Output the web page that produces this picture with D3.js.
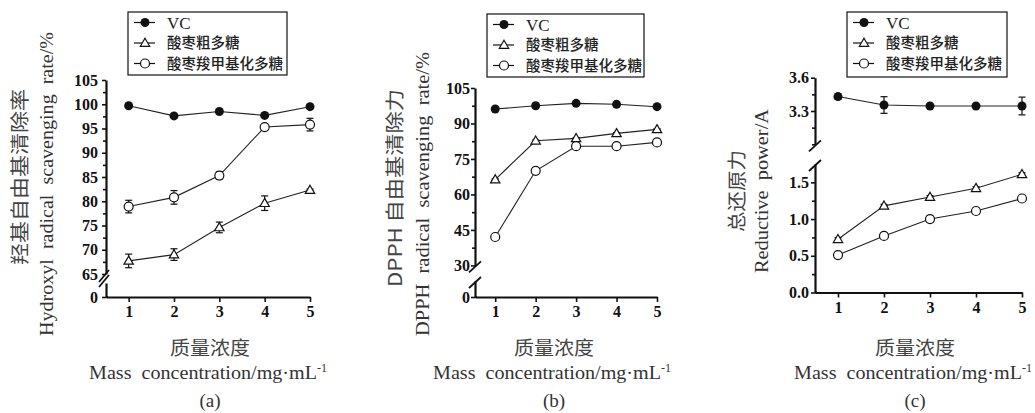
<!DOCTYPE html>
<html>
<head>
<meta charset="utf-8">
<script src="https://cdn.jsdelivr.net/npm/d3@7"></script>
<style>
  body { margin: 0; background: #fff; }
  svg text { font-family: "Liberation Serif", "Times New Roman", serif; fill: #111; }
  svg text.cn { font-family: "Noto Sans CJK SC", sans-serif; }
</style>
</head>
<body>
<svg id="chart" width="1035" height="413"></svg>
<script>
// concentrations (mg/mL) and series names
var conc = [1, 2, 3, 4, 5];
var seriesNames = ["VC", "酸枣粗多糖", "酸枣羧甲基化多糖"];

// (a) hydroxyl radical scavenging rate, %
var ohVC = [99.7, 97.6, 98.5, 97.7, 99.5];
var ohVCErr = [0.3, 0.3, 0.3, 0.3, 0.3];
var ohCrude = [67.7, 69.0, 74.6, 79.6, 82.3];
var ohCrudeErr = [1.4, 1.2, 1.1, 1.5, 0.2];
var ohCM = [78.9, 80.8, 85.3, 95.3, 95.8];
var ohCMErr = [1.3, 1.4, 0.8, 0.3, 1.3];
var ohTicks = [0, 65, 70, 75, 80, 85, 90, 95, 100, 105];

// (b) DPPH radical scavenging rate, %
var dpVC = [96.1, 97.5, 98.5, 98.1, 97.1];
var dpVCErr = [0.3, 0.3, 0.3, 0.3, 0.3];
var dpCrude = [66.3, 82.7, 83.7, 85.8, 87.5];
var dpCrudeErr = [0.3, 0.3, 0.3, 0.3, 0.3];
var dpCM = [42.0, 70.0, 80.4, 80.4, 82.0];
var dpCMErr = [0.3, 0.3, 0.3, 0.3, 0.3];
var dpTicks = [0, 30, 45, 60, 75, 90, 105];

// (c) reductive power, A
var rpVC = [3.43, 3.354, 3.345, 3.345, 3.345];
var rpVCErr = [0.025, 0.075, 0.01, 0.005, 0.08];
var rpCrude = [0.725, 1.18, 1.30, 1.42, 1.61];
var rpCrudeErr = [0.02, 0.02, 0.02, 0.02, 0.02];
var rpCM = [0.51, 0.77, 1.0, 1.11, 1.28];
var rpCMErr = [0.02, 0.02, 0.04, 0.04, 0.02];
var rpTicks = [0, 0.5, 1.0, 1.5, 3.3, 3.6];

var svg = d3.select("#chart");

var panels = [{
    id: "(a)",
    series: [[ohVC, ohVCErr], [ohCrude, ohCrudeErr], [ohCM, ohCMErr]],
    ticks: ohTicks, minorStep: 2.5, fmt: d3.format("d"),
    split: 50,
    hiDomain: [65, 105], hiRange: [274, 80],
    loDomain: [0, 1], loRange: [297, 283],
    x0: 106, x1: 310, labelPad: 4,
    brk: "double",
    legend: { x: 128, y: 12, w: 159, h: 63 },
    cnTitle: "羟基自由基清除率", cnX: 20, cnY: 177, cnLen: 176,
    enTitle: "Hydroxyl  radical  scavenging  rate/%", enX: 47, enY: 184, enLen: 304,
    xCenter: 210
}, {
    id: "(b)",
    series: [[dpVC, dpVCErr], [dpCrude, dpCrudeErr], [dpCM, dpCMErr]],
    ticks: dpTicks, minorStep: 7.5, fmt: d3.format("d"),
    split: 15,
    hiDomain: [30, 105], hiRange: [265.4, 88],
    loDomain: [0, 1], loRange: [297, 281],
    x0: 475, x1: 657, labelPad: 1,
    brk: "single",
    legend: { x: 487, y: 14, w: 157, h: 63 },
    cnTitle: "DPPH 自由基清除力", cnX: 395, cnY: 188, cnLen: 198,
    enTitle: "DPPH  radical  scavenging  rate/%", enX: 423, enY: 194, enLen: 284,
    xCenter: 554
}, {
    id: "(c)",
    series: [[rpVC, rpVCErr], [rpCrude, rpCrudeErr], [rpCM, rpCMErr]],
    ticks: rpTicks, minorStep: 0.15, fmt: d3.format(".1f"),
    split: 2.5,
    hiDomain: [3.0, 3.6], hiRange: [144.3, 77.7],
    loDomain: [0, 1.75], loRange: [292.5, 164],
    loMinor: 0.25,
    x0: 815, x1: 1022, labelPad: 2,
    brk: "single",
    legend: { x: 847, y: 12, w: 160, h: 65 },
    cnTitle: "总还原力", cnX: 737, cnY: 191, cnLen: 82,
    enTitle: "Reductive  power/A", enX: 762, enY: 191, enLen: 164,
    xCenter: 915
}];

function marker(sel, k, cx, cy) {
    if (k === 0) {
        sel.append("circle").attr("cx", cx).attr("cy", cy).attr("r", 4.5).attr("fill", "#111");
    } else if (k === 1) {
        sel.append("path")
            .attr("d", d3.symbol().type(d3.symbolTriangle).size(38)())
            .attr("transform", "translate(" + cx + "," + (cy + 0.6) + ")")
            .attr("fill", "#fff").attr("stroke", "#111").attr("stroke-width", 1.2);
    } else {
        sel.append("circle").attr("cx", cx).attr("cy", cy).attr("r", 4.5)
            .attr("fill", "#fff").attr("stroke", "#111").attr("stroke-width", 1.2);
    }
}

panels.forEach(function(p) {
    var g = svg.append("g");
    var x = d3.scaleLinear().domain([0.5, 5]).range([p.x0, p.x1]);
    var yHi = d3.scaleLinear().domain(p.hiDomain).range(p.hiRange);
    var yLo = d3.scaleLinear().domain(p.loDomain).range(p.loRange);
    var y = function(v) { return v >= p.split ? yHi(v) : yLo(v); };
    var baseY = yLo(0);

    var hiMajor = p.ticks.filter(function(t) { return t >= p.split; });
    var loMajor = p.ticks.filter(function(t) { return t < p.split; });
    var hiMinor = d3.range(p.hiDomain[0], p.hiDomain[1] + 1e-9, p.minorStep)
        .filter(function(t) { return hiMajor.every(function(m) { return Math.abs(m - t) > 1e-6; }); });
    var loMinor = p.loMinor ? d3.range(0, p.loDomain[1] - 0.1, p.loMinor)
        .filter(function(t) { return loMajor.every(function(m) { return Math.abs(m - t) > 1e-6; }); }) : [];

    // y axis, upper part
    var ah = g.append("g").attr("transform", "translate(" + p.x0 + ",0)")
        .call(d3.axisLeft(yHi).tickValues(hiMajor).tickSize(4).tickSizeOuter(0)
            .tickPadding(p.labelPad).tickFormat(p.fmt));
    var ahm = g.append("g").attr("transform", "translate(" + p.x0 + ",0)")
        .call(d3.axisLeft(yHi).tickValues(hiMinor).tickSize(3).tickSizeOuter(0).tickFormat(""));
    // y axis, lower part
    var al = g.append("g").attr("transform", "translate(" + p.x0 + ",0)")
        .call(d3.axisLeft(yLo).tickValues(loMajor).tickSize(4).tickSizeOuter(0)
            .tickPadding(p.labelPad).tickFormat(p.fmt));
    var alm = g.append("g").attr("transform", "translate(" + p.x0 + ",0)")
        .call(d3.axisLeft(yLo).tickValues(loMinor).tickSize(3).tickSizeOuter(0).tickFormat(""));
    ahm.select(".domain").remove();
    alm.select(".domain").remove();

    // x axis
    var ax = g.append("g").attr("transform", "translate(0," + baseY + ")")
        .call(d3.axisBottom(x).tickValues(conc).tickSize(5).tickSizeOuter(0)
            .tickPadding(4).tickFormat(d3.format("d")));

    [ah, ahm, al, alm, ax].forEach(function(a) {
        a.attr("font-family", "Liberation Serif").attr("font-size", 16).attr("font-weight", "bold");
        a.selectAll(".domain").attr("stroke", "#111").attr("stroke-width", 2.2);
        a.selectAll(".tick line").attr("stroke", "#111").attr("stroke-width", 1.6);
        a.selectAll(".tick text").attr("fill", "#111")
            .style("font-family", "Liberation Serif")
            .style("font-weight", "bold").style("font-size", "16px");
    });
    g.append("line").attr("x1", p.x0).attr("x2", p.x0 + 2).attr("y1", baseY).attr("y2", baseY)
        .attr("stroke", "#111").attr("stroke-width", 2.2);

    // break marks
    var bTop = p.hiRange[0], bBot = p.loRange[1];
    var brk = g.append("g").attr("stroke", "#111").attr("stroke-width", 1.8).attr("fill", "none");
    if (p.brk === "double") {
        var mid = (bTop + bBot) / 2;
        [-2.5, 2.5].forEach(function(o) {
            brk.append("line").attr("x1", p.x0 - 7).attr("y1", mid + o + 6)
                .attr("x2", p.x0 + 3).attr("y2", mid + o - 6);
        });
    } else {
        brk.append("line").attr("x1", p.x0 - 6).attr("y1", bTop + 7)
            .attr("x2", p.x0 + 6).attr("y2", bTop - 4);
        brk.append("line").attr("x1", p.x0 - 6).attr("y1", bBot + 7)
            .attr("x2", p.x0 + 6).attr("y2", bBot - 4);
    }

    // series
    var line = d3.line().x(function(d, i) { return x(conc[i]); }).y(function(d) { return y(d); });
    p.series.forEach(function(s) {
        g.append("path").attr("d", line(s[0])).attr("fill", "none")
            .attr("stroke", "#222").attr("stroke-width", 1.1);
    });
    p.series.forEach(function(s, k) {
        var eg = g.append("g").attr("stroke", "#111").attr("stroke-width", 1.2);
        s[0].forEach(function(v, i) {
            var cx = x(conc[i]), e = s[1][i];
            var t = y(v + e), b = y(v - e);
            eg.append("line").attr("x1", cx).attr("x2", cx).attr("y1", t).attr("y2", b);
            eg.append("line").attr("x1", cx - 3.5).attr("x2", cx + 3.5).attr("y1", t).attr("y2", t);
            eg.append("line").attr("x1", cx - 3.5).attr("x2", cx + 3.5).attr("y1", b).attr("y2", b);
        });
    });
    p.series.forEach(function(s, k) {
        s[0].forEach(function(v, i) { marker(g, k, x(conc[i]), y(v)); });
    });

    // legend
    var L = p.legend;
    g.append("rect").attr("x", L.x).attr("y", L.y).attr("width", L.w).attr("height", L.h)
        .attr("fill", "#fff").attr("stroke", "#111").attr("stroke-width", 1.2);
    seriesNames.forEach(function(name, k) {
        var ry = L.y + 10.5 + k * 20.5;
        g.append("line").attr("x1", L.x + 6).attr("x2", L.x + 27).attr("y1", ry).attr("y2", ry)
            .attr("stroke", "#111").attr("stroke-width", 1.2);
        marker(g, k, L.x + 17, ry);
        g.append("text").attr("class", k === 0 ? "" : "cn")
            .attr("x", L.x + 39).attr("y", ry).attr("dy", "0.36em")
            .style("font-size", k === 0 ? "17px" : "14.5px")
            .style("font-weight", k === 0 ? "normal" : "500")
            .style("fill", "#222")
            .text(name);
    });

    // y titles
    g.append("text").attr("class", "cn")
        .attr("transform", "translate(" + p.cnX + "," + p.cnY + ") rotate(-90)")
        .attr("text-anchor", "middle").attr("dy", "0.36em")
        .attr("textLength", p.cnLen).attr("lengthAdjust", "spacingAndGlyphs")
        .style("font-size", "19px").style("font-weight", "400").style("fill", "#444").text(p.cnTitle);
    g.append("text")
        .attr("transform", "translate(" + p.enX + "," + p.enY + ") rotate(-90)")
        .attr("text-anchor", "middle").attr("dy", "0.32em")
        .attr("textLength", p.enLen).attr("lengthAdjust", "spacingAndGlyphs")
        .style("font-size", "19px").style("fill", "#333").style("white-space", "pre").text(p.enTitle);

    // x titles
    g.append("text").attr("class", "cn").attr("x", p.xCenter).attr("y", 348).attr("dy", "0.36em")
        .attr("text-anchor", "middle").attr("textLength", 80).attr("lengthAdjust", "spacingAndGlyphs")
        .style("font-size", "19px").style("font-weight", "400").style("fill", "#444").text("质量浓度");
    var mt = g.append("text").attr("x", p.xCenter - 121).attr("y", 379)
        .style("font-size", "19px").style("fill", "#333").style("white-space", "pre");
    mt.append("tspan").attr("textLength", 228).attr("lengthAdjust", "spacingAndGlyphs")
        .text("Mass  concentration/mg·mL");
    mt.append("tspan").attr("dy", -7).style("font-size", "12px").text("-1");
    g.append("text").attr("x", p.xCenter).attr("y", 400).attr("dy", "0.36em")
        .attr("text-anchor", "middle").style("font-size", "19px").style("fill", "#333").text(p.id);
});
</script>
</body>
</html>
